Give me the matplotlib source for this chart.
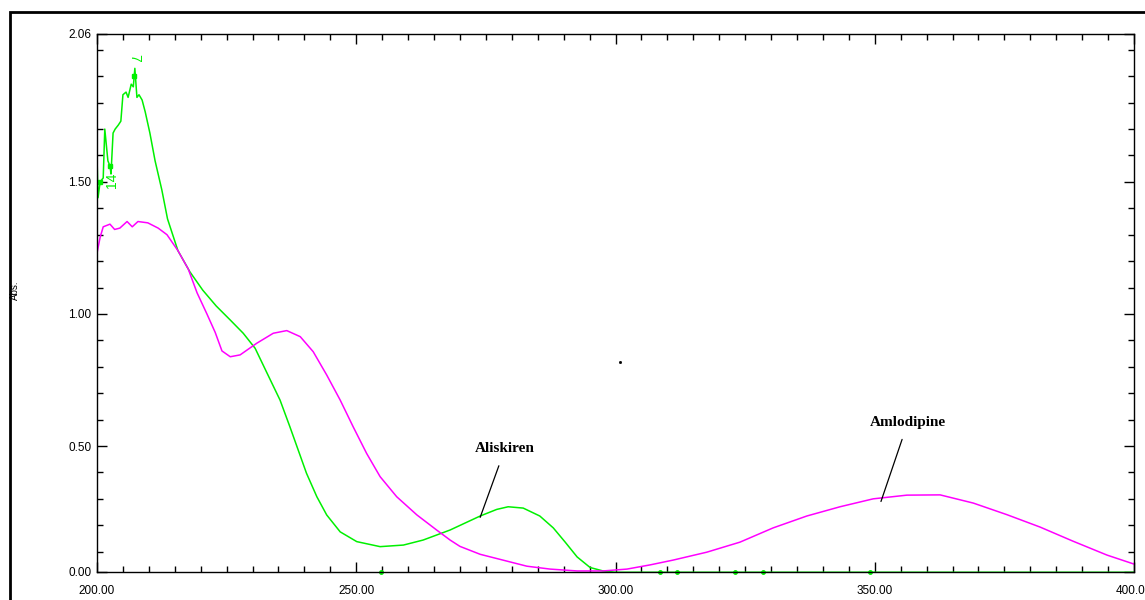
import matplotlib
matplotlib.use("Agg")
import matplotlib.pyplot as plt
import matplotlib.patches as mpatches
from matplotlib.ticker import MultipleLocator

# Aliskiren spectrum (green) - wavelength nm / absorbance
ALI_X = [200.0, 200.2, 200.6, 201.2, 201.5, 201.9, 202.1, 202.5, 202.7, 203.1,
         203.5, 204.1, 204.6, 205.0, 205.6, 206.0, 206.6, 207.0, 207.3, 207.7,
         208.1, 208.7, 209.3, 210.2, 211.2, 212.5, 213.6, 215.6, 217.9, 220.4,
         223.0, 225.7, 228.2, 230.5, 232.7, 235.3, 237.2, 238.8, 240.4, 242.4,
         244.3, 246.9, 250.1, 254.6, 259.1, 262.9, 268.1, 273.9, 277.1, 279.3,
         282.2, 285.4, 288.0, 290.3, 292.6, 295.1, 297.6, 300.0, 350.0, 400.0]
ALI_Y = [1.595, 1.44, 1.50, 1.515, 1.70, 1.62, 1.58, 1.56, 1.53, 1.685,
         1.70, 1.715, 1.73, 1.83, 1.84, 1.82, 1.87, 1.86, 1.93, 1.82,
         1.83, 1.81, 1.765, 1.685, 1.58, 1.47, 1.36, 1.24, 1.16, 1.09,
         1.03, 0.977, 0.927, 0.87, 0.78, 0.674, 0.573, 0.485, 0.397, 0.308,
         0.239, 0.175, 0.138, 0.119, 0.125, 0.144, 0.182, 0.235, 0.26, 0.27,
         0.265, 0.235, 0.19, 0.136, 0.08, 0.04, 0.027, 0.022, 0.022, 0.022]

# Amlodipine spectrum (magenta)
AML_X = [200.0, 200.6, 201.2, 202.5, 203.4, 204.4, 205.8, 206.8, 207.9, 209.8,
         211.8, 213.5, 215.6, 217.6, 219.3, 221.2, 222.8, 224.1, 225.7, 227.6,
         230.8, 234.0, 236.6, 239.2, 241.7, 244.3, 246.9, 249.4, 252.0, 254.6,
         257.8, 261.7, 265.5, 268.1, 270.0, 273.9, 278.3, 282.9, 287.4, 292.6,
         297.6, 302.2, 306.7, 311.1, 317.6, 324.0, 330.4, 336.9, 343.3, 349.7,
         356.2, 362.6, 369.0, 375.5, 381.9, 388.2, 394.8, 400.0]
AML_Y = [1.23, 1.29, 1.33, 1.34, 1.32, 1.325, 1.35, 1.33, 1.35, 1.345,
         1.325, 1.30, 1.24, 1.17, 1.08, 1.00, 0.93, 0.86, 0.838, 0.845,
         0.889, 0.927, 0.937, 0.914, 0.857, 0.769, 0.674, 0.573, 0.472, 0.384,
         0.308, 0.239, 0.182, 0.144, 0.12, 0.09, 0.068, 0.045, 0.034, 0.027,
         0.027, 0.034, 0.05, 0.068, 0.098, 0.136, 0.19, 0.235, 0.27, 0.30,
         0.314, 0.315, 0.284, 0.24, 0.193, 0.14, 0.087, 0.053]

# picked peaks / valleys on the green trace
PEAK_X = [200.6, 202.5, 207.2]
PEAK_Y = [1.50, 1.56, 1.90]
BASE_MARK_X = [254.8, 308.6, 311.8, 323.0, 328.4, 349.1]
BASE_MARK_Y = [0.022] * len(BASE_MARK_X)

Y_MIN, Y_MAX = 0.023, 2.06
YTICKS = [Y_MIN, 0.5, 1.0, 1.5, Y_MAX]
YTICK_LABELS = ["0.00", "0.50", "1.00", "1.50", "2.06"]
XTICKS = [200, 250, 300, 350, 400]
XTICK_LABELS = ["200.00", "250.00", "300.00", "350.00", "400.00"]

GREEN = "#00f000"
MAGENTA = "#ff00ff"

fig = plt.figure(figsize=(11.45, 6.0), dpi=100)
ax = fig.add_axes([97 / 1145, 1 - 572 / 600, (1134 - 97) / 1145, (572 - 34) / 600])

ax.plot(ALI_X, ALI_Y, color=GREEN, lw=1.1)
ax.plot(AML_X, AML_Y, color=MAGENTA, lw=1.1)
ax.plot(PEAK_X, PEAK_Y, ls="none", marker="s", ms=3, color=GREEN)
ax.plot(BASE_MARK_X, BASE_MARK_Y, ls="none", marker="o", ms=2.5, color=GREEN, clip_on=False)

ax.text(207.2, 1.955, "7", color=GREEN, fontsize=10, rotation=-90,
        ha="center", va="bottom", family="Liberation Sans")
ax.text(202.8, 1.535, "14", color=GREEN, fontsize=10, rotation=90,
        ha="center", va="top", family="Liberation Sans")

# peak annotations
ax.annotate("Aliskiren", xy=(273.9, 0.23), xytext=(278.7, 0.49),
            ha="center", va="center", fontsize=11, fontweight="bold",
            family="Liberation Serif",
            arrowprops=dict(arrowstyle="-", color="black", lw=0.9, shrinkA=6, shrinkB=0))
ax.annotate("Amlodipine", xy=(351.2, 0.29), xytext=(356.4, 0.59),
            ha="center", va="center", fontsize=11, fontweight="bold",
            family="Liberation Serif",
            arrowprops=dict(arrowstyle="-", color="black", lw=0.9, shrinkA=6, shrinkB=0))

ax.plot([300.8], [0.82], ls="none", marker="s", ms=1, color="black")

ax.set_xlim(200, 400)
ax.set_ylim(Y_MIN, Y_MAX)
ax.set_xticks(XTICKS)
ax.set_xticklabels(XTICK_LABELS)
ax.set_yticks(YTICKS)
ax.set_yticklabels(YTICK_LABELS)
ax.xaxis.set_minor_locator(MultipleLocator(5))
ax.yaxis.set_minor_locator(MultipleLocator(0.1))
ax.tick_params(which="both", direction="in", top=True, right=True,
               labelsize=8.5, width=1, colors="black")
ax.tick_params(which="major", length=7)
ax.tick_params(which="minor", length=4)
ax.tick_params(axis="x", pad=9)
ax.tick_params(axis="y", pad=4)
for lab in ax.get_xticklabels() + ax.get_yticklabels():
    lab.set_family("Liberation Sans")
for sp in ax.spines.values():
    sp.set_linewidth(1)

fig.text(15 / 1145, 1 - 290 / 600, "Abs.", rotation=90, fontsize=7,
         ha="center", va="center", family="Liberation Sans")

# outer border of the instrument printout
fig.patches.append(mpatches.Rectangle((10 / 1145, -0.1), 1.2, 1.1 - 12 / 600,
                                      transform=fig.transFigure, fill=False,
                                      edgecolor="black", lw=2))

fig.savefig("out.png", dpi=100)
